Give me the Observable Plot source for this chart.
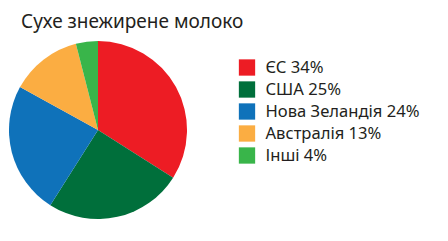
<!DOCTYPE html>
<html>
<head>
<meta charset="utf-8">
<script src="https://cdn.jsdelivr.net/npm/d3@7"></script>
<script src="https://cdn.jsdelivr.net/npm/@observablehq/plot@0.6"></script>
<style>
  html, body { margin: 0; padding: 0; background: #fff; }
  #chart { position: relative; width: 448px; height: 241px; overflow: hidden; font-family: "Noto Sans", sans-serif; color: #231f20; }
  #title { position: absolute; left: 21px; top: 12px; font-size: 19px; line-height: 1; white-space: nowrap; }
  #pie { position: absolute; left: 7px; top: 39px; }
  #legend { position: absolute; left: 230px; top: 50px; }
</style>
</head>
<body>
<div id="chart">
  <div id="title"></div>
  <div id="pie"></div>
  <div id="legend"></div>
</div>
<script>
const titleText = "Сухе знежирене молоко";
const names = ["ЄС", "США", "Нова Зеландія", "Австралія", "Інші"];
const values = [34, 25, 24, 13, 4];
const colors = ["#ed1c24", "#006f3b", "#0f72ba", "#fbad42", "#39b54a"];

const data = names.map((name, i) => ({name, value: values[i]}));

document.getElementById("title").textContent = titleText;

const size = 182;
const pieMark = (index, scales, channels, dimensions) => {
  const {width, height} = dimensions;
  const r = Math.min(width, height) / 2 - 2;
  const arcs = d3.pie().sort(null).value(d => d.value)(data);
  const arc = d3.arc().innerRadius(0).outerRadius(r);
  const g = d3.create("svg:g").attr("transform", `translate(${width / 2},${height / 2})`);
  g.selectAll("path").data(arcs).join("path")
    .attr("d", arc)
    .attr("fill", d => scales.color ? scales.color(d.data.name) : colors[d.index]);
  return g.node();
};

const pie = Plot.plot({
  width: size,
  height: size,
  margin: 0,
  x: {axis: null},
  y: {axis: null},
  color: {domain: names, range: colors},
  marks: [
    Plot.dot(data, {fill: "name", r: 0, frameAnchor: "middle"}),
    pieMark
  ]
});
document.getElementById("pie").appendChild(pie);

const legend = Plot.plot({
  width: 210,
  height: 130,
  margin: 0,
  style: {fontFamily: "Noto Sans, sans-serif", color: "#231f20", background: "transparent"},
  x: {axis: null},
  y: {type: "point", domain: names, range: [16, 106], padding: 0, axis: null},
  color: {domain: names, range: colors},
  marks: [
    Plot.dot(data, {y: "name", fill: "name", symbol: "square", r: 9.2, frameAnchor: "left", dx: 16.5}),
    Plot.text(data, {y: "name", text: d => `${d.name} ${d.value}%`, frameAnchor: "left", dx: 35, textAnchor: "start", fontSize: 16.6, fill: "#231f20"})
  ]
});
document.getElementById("legend").appendChild(legend);
</script>
</body>
</html>
